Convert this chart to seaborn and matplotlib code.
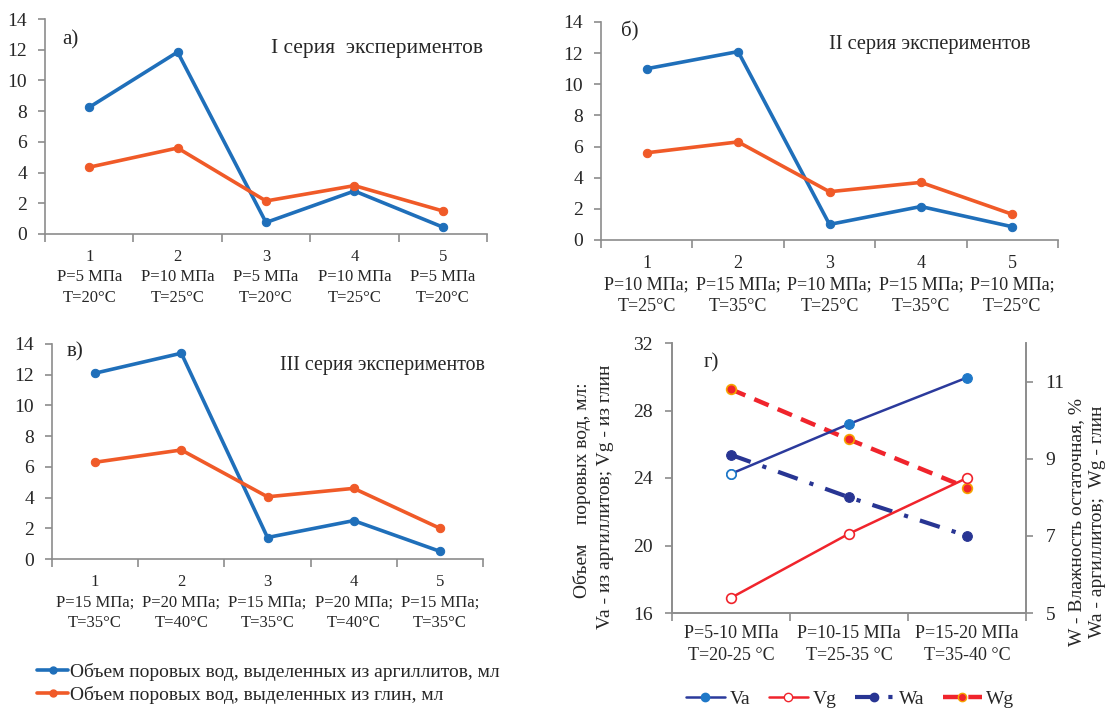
import numpy as np
import pandas as pd
import matplotlib
matplotlib.use("Agg")
import matplotlib.pyplot as plt
from matplotlib.lines import Line2D
from matplotlib.ticker import FixedLocator
import seaborn as sns

sns.set_theme(style="white")
plt.rcParams['font.family'] = ['Liberation Serif', 'DejaVu Serif']

# ---------------- data ----------------
experiments = [1, 2, 3, 4, 5]
labels_a = ["P=5 МПа\nT=20°C", "P=10 МПа\nT=25°C", "P=5 МПа\nT=20°C", "P=10 МПа\nT=25°C", "P=5 МПа\nT=20°C"]
labels_b = ["P=10 МПа;\nT=25°C", "P=15 МПа;\nT=35°C", "P=10 МПа;\nT=25°C", "P=15 МПа;\nT=35°C", "P=10 МПа;\nT=25°C"]
labels_c = ["P=15 МПа;\nT=35°C", "P=20 МПа;\nT=40°C", "P=15 МПа;\nT=35°C", "P=20 МПа;\nT=40°C", "P=15 МПа;\nT=35°C"]

argillite_a = [8.25, 11.85, 0.75, 2.8, 0.45]
clay_a = [4.35, 5.6, 2.15, 3.15, 1.5]
argillite_b = [11.0, 12.1, 1.0, 2.15, 0.85]
clay_b = [5.6, 6.3, 3.1, 3.7, 1.65]
argillite_c = [12.1, 13.4, 1.4, 2.5, 0.5]
clay_c = [6.3, 7.1, 4.05, 4.6, 2.0]

regimes = ["P=5-10 МПа\nT=20-25 °C", "P=10-15 МПа\nT=25-35 °C", "P=15-20 МПа\nT=35-40 °C"]
Va = [24.25, 27.2, 29.95]
Vg = [16.9, 20.7, 24.0]
Wa = [9.1, 8.0, 7.0]
Wg = [10.8, 9.5, 8.25]

series_names = ["Объем поровых вод, выделенных из аргиллитов, мл",
                "Объем поровых вод, выделенных из глин, мл"]

BLUE = "#1f6fba"
ORANGE = "#f05a28"
TXT = "#262626"
SPINE = "#8c8c8c"

fig = plt.figure(figsize=(11.14, 7.10), dpi=100)

W, H = 1114, 710
def box(l, t, r, b):
    return [l / W, 1 - b / H, (r - l) / W, (b - t) / H]

def style_axes(ax):
    for s in ["top", "right"]:
        ax.spines[s].set_visible(False)
    for s in ["left", "bottom"]:
        ax.spines[s].set_color(SPINE)
        ax.spines[s].set_linewidth(1.2)

def panel(rect, blue, orange, labels, letter, title, letter_xy, title_xy, xfs):
    ax = fig.add_axes(box(*rect))
    pos = np.arange(len(experiments))
    df = pd.DataFrame({"x": pos, "a": blue, "g": orange})
    sns.lineplot(data=df, x="x", y="a", ax=ax, color=BLUE, lw=2.6, marker="o",
                 markersize=6, markeredgecolor=BLUE, sort=False)
    sns.lineplot(data=df, x="x", y="g", ax=ax, color=ORANGE, lw=2.6, marker="o",
                 markersize=6, markeredgecolor=ORANGE, sort=False)
    ax.set_xlim(-0.5, len(experiments) - 0.5)
    ax.set_ylim(0, 14)
    ax.set_yticks(range(0, 15, 2))
    ax.set_xticks(pos)
    ax.set_xticklabels([f"{n}\n{l}" for n, l in zip(experiments, labels)],
                       fontsize=xfs, color=TXT, linespacing=1.35)
    ax.xaxis.set_minor_locator(FixedLocator(np.arange(-0.5, len(experiments), 1.0)))
    ax.tick_params(axis="x", which="major", length=0, pad=11)
    ax.tick_params(axis="x", which="minor", length=6, width=1.2, color=SPINE, direction="out", bottom=True)
    ax.tick_params(axis="y", length=5, width=1.2, color=SPINE, direction="out", left=True,
                   labelsize=14, labelcolor=TXT, pad=8)
    ax.set_xlabel("")
    ax.set_ylabel("")
    style_axes(ax)
    ax.text(letter_xy[0], letter_xy[1], letter, transform=ax.transAxes, fontsize=15,
            color=TXT, va="center", ha="left")
    ax.text(title_xy[0], title_xy[1], title, transform=ax.transAxes, fontsize=title_xy[2],
            color=TXT, va="center", ha="right")
    return ax

panel((45, 19, 487, 234), argillite_a, clay_a, labels_a, "а)", "I серия  экспериментов",
      (0.04, 0.905), (0.99, 0.865, 15.4), 12)
panel((601, 22, 1058, 240), argillite_b, clay_b, labels_b, "б)", "II серия экспериментов",
      (0.044, 0.955), (0.94, 0.895, 14.7), 13)
panel((52, 344, 483, 559), argillite_c, clay_c, labels_c, "в)", "III серия экспериментов",
      (0.035, 0.963), (1.005, 0.902, 14.3), 12)

# legend for a-c
handles = [Line2D([0], [0], color=BLUE, lw=2.6, marker="o", markersize=5),
           Line2D([0], [0], color=ORANGE, lw=2.6, marker="o", markersize=5)]
fig.legend(handles, series_names, loc="upper left", bbox_to_anchor=(37 / W, 1 - 663 / H),
           frameon=False, fontsize=14, handlelength=1.6, handletextpad=0.12,
           labelspacing=0.25, borderpad=0, borderaxespad=0, labelcolor=TXT)

# ---------------- panel г ----------------
VA_LINE = "#2b3a9c"
VA_MARK = "#1f78c8"
RED = "#f0242c"
NAVY = "#283593"
GOLD = "#f5a300"
WA_DASH = (0, (5, 3, 1, 3))
WG_DASH = (0, (3.5, 2.2))

ax = fig.add_axes(box(672, 343, 1026, 613))
ax2 = ax.twinx()
pos = np.arange(len(regimes))
dfg = pd.DataFrame({"x": pos, "Va": Va, "Vg": Vg, "Wa": Wa, "Wg": Wg})

sns.lineplot(data=dfg, x="x", y="Wa", ax=ax2, color=NAVY, lw=3, sort=False,
             linestyle=WA_DASH, marker="o", markersize=7, markeredgecolor=NAVY)
sns.lineplot(data=dfg, x="x", y="Wg", ax=ax2, color=RED, lw=3.2, sort=False,
             linestyle=WG_DASH, marker="o", markersize=7,
             markerfacecolor=RED, markeredgecolor=GOLD, markeredgewidth=1.2)
sns.lineplot(data=dfg, x="x", y="Va", ax=ax, color=VA_LINE, lw=1.8, sort=False,
             marker="o", markersize=7, markerfacecolor=VA_MARK, markeredgecolor=VA_MARK)
sns.lineplot(data=dfg, x="x", y="Vg", ax=ax, color=RED, lw=1.8, sort=False, marker="o",
             markersize=7, markerfacecolor="white", markeredgecolor=RED, markeredgewidth=1.2)
# first Va point is hollow
sns.scatterplot(data=dfg.iloc[:1], x="x", y="Va", ax=ax, s=45, color="white",
                edgecolor=VA_MARK, linewidth=1.2, zorder=5)

ax.set_zorder(ax2.get_zorder() + 1)
ax.patch.set_visible(False)

ax.set_xlim(-0.5, len(regimes) - 0.5)
ax.set_ylim(16, 32)
ax.set_yticks([16, 20, 24, 28, 32])
ax2.set_ylim(5, 12)
ax2.set_yticks([5, 7, 9, 11])
ax.set_xticks(pos)
ax.set_xticklabels(regimes, fontsize=13, color=TXT, linespacing=1.35)
ax.xaxis.set_minor_locator(FixedLocator(np.arange(-0.5, len(regimes), 1.0)))
ax.tick_params(axis="x", which="major", length=0, pad=9)
ax.tick_params(axis="x", which="minor", length=6, width=1.2, color=SPINE, direction="out", bottom=True)
ax.tick_params(axis="y", length=5, width=1.2, color=SPINE, direction="out", left=True,
               labelsize=14, labelcolor=TXT, pad=9)
ax2.tick_params(axis="y", length=5, width=1.2, color=SPINE, direction="out", right=True,
                labelsize=14, labelcolor=TXT, pad=9)
for a in (ax, ax2):
    a.set_xlabel("")
    a.set_ylabel("")
    a.spines["top"].set_visible(False)
    for s in ["left", "right", "bottom"]:
        a.spines[s].set_color(SPINE)
        a.spines[s].set_linewidth(1.2)
    a.grid(False)
ax.text(0.088, 0.926, "г)", transform=ax.transAxes, fontsize=15, color=TXT, va="center")

fig.text(582 / W, 1 - 490 / H, "Объем    поровых вод, мл:", rotation=90, fontsize=14,
         color=TXT, ha="center", va="center")
fig.text(605 / W, 1 - 497 / H, "Va - из аргиллитов; Vg - из глин", rotation=90, fontsize=14,
         color=TXT, ha="center", va="center")
fig.text(1077 / W, 1 - 522 / H, "W - Влажность остаточная, %", rotation=90, fontsize=14,
         color=TXT, ha="center", va="center")
fig.text(1098 / W, 1 - 522 / H, "Wa - аргиллитов;  Wg - глин", rotation=90, fontsize=14,
         color=TXT, ha="center", va="center")

h2 = [Line2D([0], [0], color=VA_LINE, lw=1.8, marker="o", markersize=6,
             markerfacecolor=VA_MARK, markeredgecolor=VA_MARK),
      Line2D([0], [0], color=RED, lw=1.8, marker="o", markersize=6,
             markerfacecolor="white", markeredgecolor=RED),
      Line2D([0], [0], color=NAVY, lw=3, linestyle=WA_DASH, marker="o", markersize=6,
             markeredgecolor=NAVY),
      Line2D([0], [0], color=RED, lw=3.2, linestyle=WG_DASH, marker="o", markersize=6,
             markerfacecolor=RED, markeredgecolor=GOLD)]
fig.legend(h2, ["Va", "Vg", "Wa", "Wg"], loc="center left",
           bbox_to_anchor=(686 / W, 1 - 699 / H), ncol=4, frameon=False, fontsize=14,
           handlelength=2.0, handletextpad=0.25, columnspacing=0.95, borderpad=0,
           borderaxespad=0, labelcolor=TXT)

fig.savefig("out.png", dpi=100)
